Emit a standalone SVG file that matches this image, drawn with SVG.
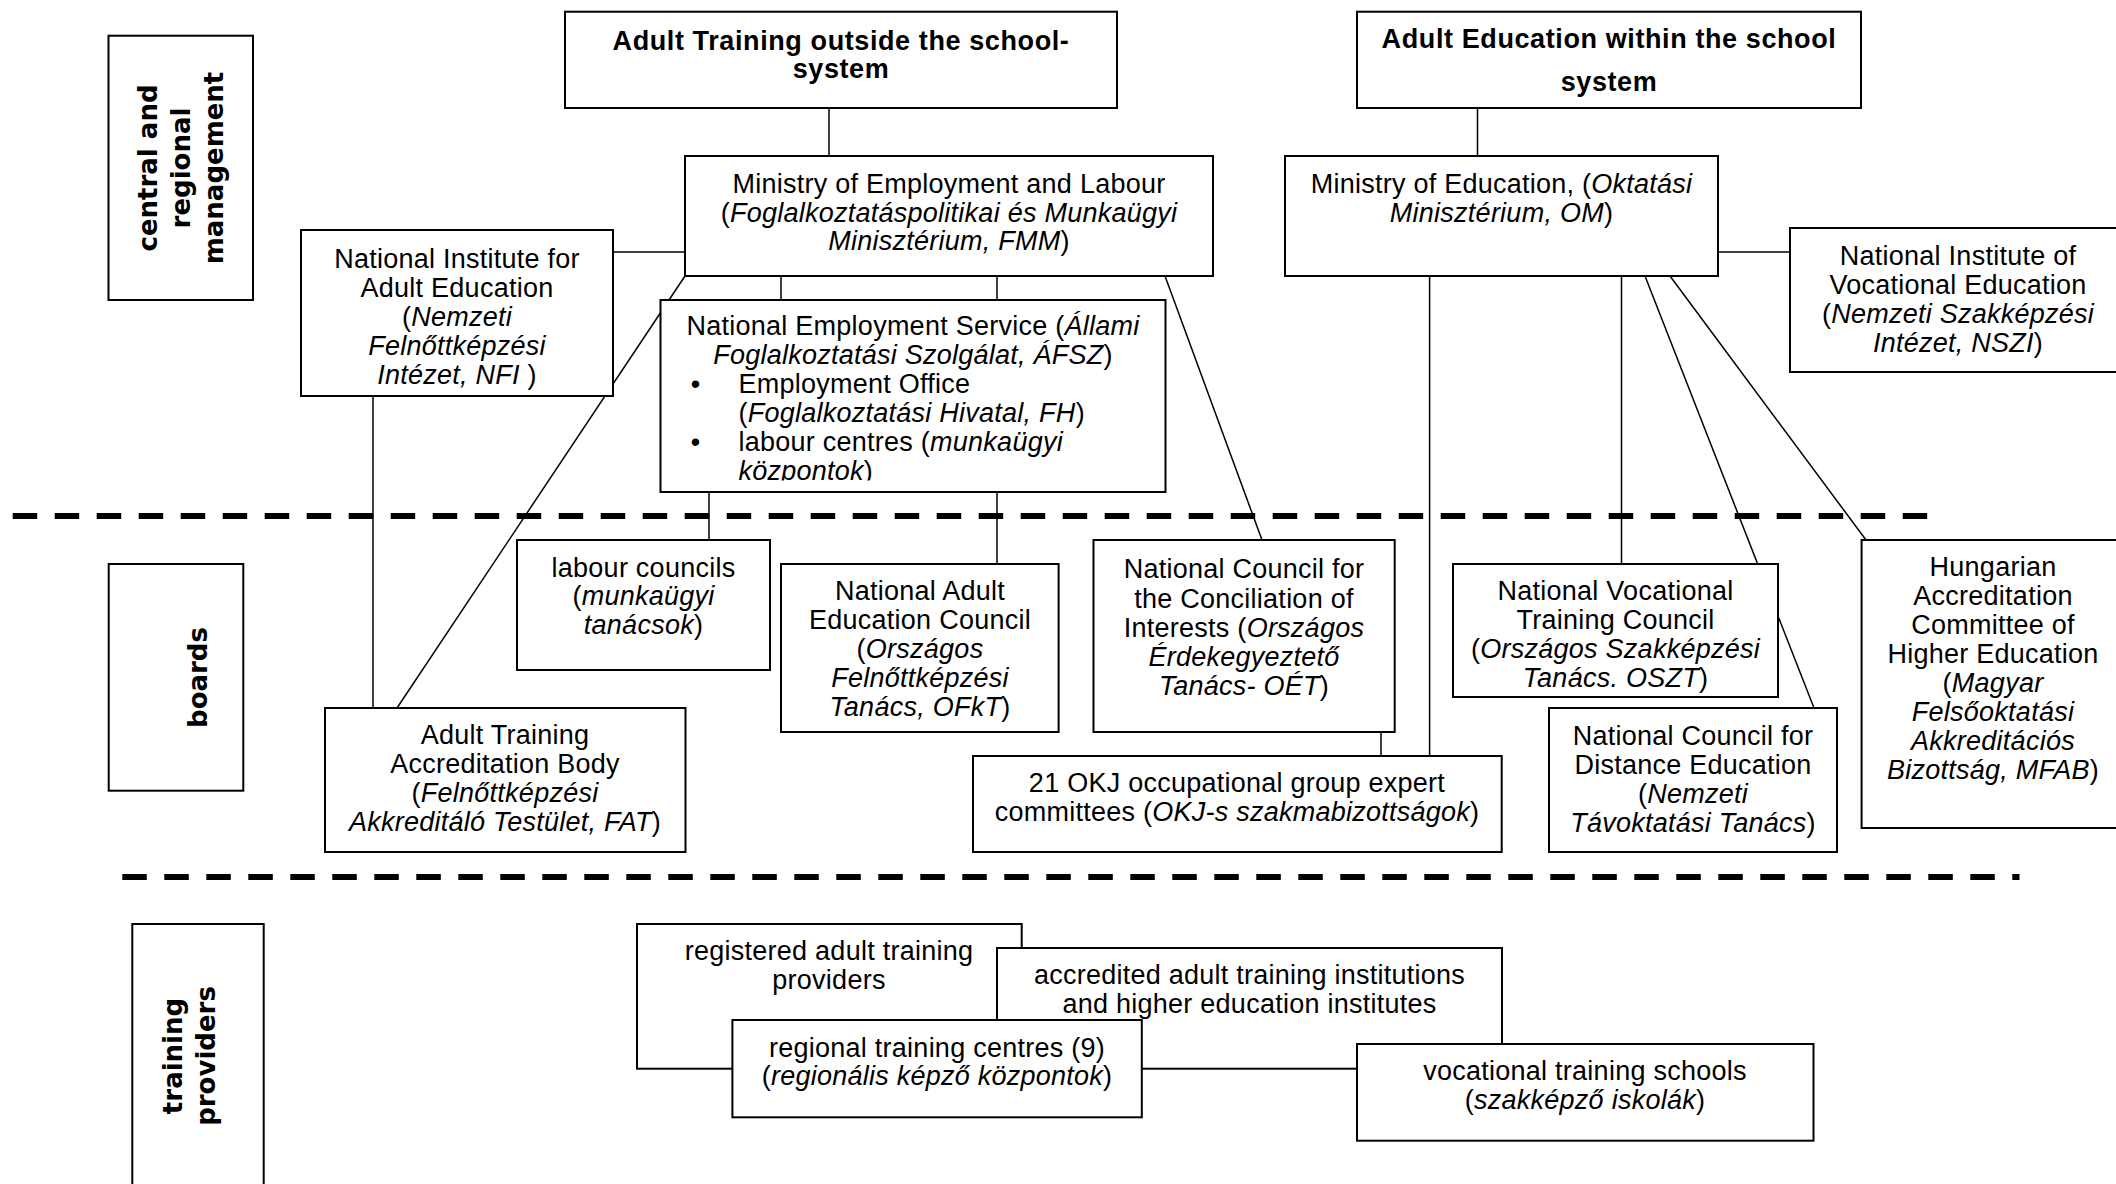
<svg xmlns="http://www.w3.org/2000/svg" width="2116" height="1184" viewBox="0 0 2116 1184">
<style>
.box{fill:#fff;stroke:#000;stroke-width:2}
.t{font-family:"Liberation Sans",Arial,sans-serif;font-size:27px;text-anchor:middle;fill:#000;letter-spacing:0.25px}
.tl{font-family:"Liberation Sans",Arial,sans-serif;font-size:27px;text-anchor:start;fill:#000;letter-spacing:0.25px}
.b{font-weight:bold;letter-spacing:0.6px}
.i{font-style:italic}
.lbl{font-family:"DejaVu Sans",Verdana,sans-serif;font-weight:bold;font-size:26px;text-anchor:middle;fill:#000}
.conn{stroke:#000;stroke-width:1.5;fill:none}
.sep{stroke:#000;stroke-width:6;stroke-dasharray:24.5 17.5;fill:none}
</style>
<defs>
<clipPath id="nesclip"><rect x="660" y="300" width="506" height="180.5"/></clipPath>
</defs>
<rect width="2116" height="1184" fill="#fff"/>

<g id="separators">
<line class="sep" x1="12.7" y1="516" x2="1927.5" y2="516"/>
<line class="sep" x1="122.3" y1="877" x2="2019.5" y2="877"/>
</g>

<g id="connectors">
<line class="conn" x1="829" y1="108" x2="829" y2="156"/>
<line class="conn" x1="1477.5" y1="108" x2="1477.5" y2="156"/>
<line class="conn" x1="613" y1="252" x2="685" y2="252"/>
<line class="conn" x1="1718" y1="252" x2="1790" y2="252"/>
<line class="conn" x1="781" y1="276" x2="781" y2="300"/>
<line class="conn" x1="997" y1="276" x2="997" y2="300"/>
<line class="conn" x1="685" y1="276" x2="397" y2="708"/>
<line class="conn" x1="373" y1="396" x2="373" y2="708"/>
<line class="conn" x1="709" y1="492" x2="709" y2="540"/>
<line class="conn" x1="997" y1="492" x2="997" y2="564"/>
<line class="conn" x1="1165" y1="276" x2="1262" y2="540"/>
<line class="conn" x1="1381" y1="732" x2="1381" y2="756"/>
<line class="conn" x1="1429.6" y1="276" x2="1429.6" y2="756"/>
<line class="conn" x1="1621.5" y1="276" x2="1621.5" y2="564"/>
<line class="conn" x1="1645" y1="276" x2="1814" y2="708"/>
<line class="conn" x1="1670" y1="276" x2="1866" y2="540"/>
</g>

<g id="label-central">
<rect class="box" x="108.5" y="35.7" width="144.5" height="264.3"/>
<text class="lbl" transform="translate(157,168) rotate(-90)">central and</text>
<text class="lbl" transform="translate(190,168) rotate(-90)">regional</text>
<text class="lbl" transform="translate(223,168) rotate(-90)">management</text>
</g>

<g id="label-boards">
<rect class="box" x="108.7" y="564" width="134.6" height="226.7"/>
<text class="lbl" transform="translate(206.7,677.5) rotate(-90)">boards</text>
</g>

<g id="label-providers">
<rect class="box" x="132.3" y="924" width="131.4" height="290"/>
<text class="lbl" transform="translate(181.5,1056) rotate(-90)">training</text>
<text class="lbl" transform="translate(214.5,1056) rotate(-90)">providers</text>
</g>

<g id="adult-training">
<rect class="box" x="565" y="11.7" width="552" height="96.3"/>
<text class="t b" x="841" y="50">Adult Training outside the school-</text>
<text class="t b" x="841" y="78">system</text>
</g>

<g id="adult-education">
<rect class="box" x="1357" y="11.7" width="504" height="96.3"/>
<text class="t b" x="1609" y="47.5">Adult Education within the school</text>
<text class="t b" x="1609" y="91">system</text>
</g>

<g id="fmm">
<rect class="box" x="685" y="156" width="528" height="120"/>
<text class="t" x="949" y="192.5">Ministry of Employment and Labour</text>
<text class="t" x="949" y="221.5">(<tspan class="i">Foglalkoztatáspolitikai és Munkaügyi</tspan></text>
<text class="t" x="949" y="249.5"><tspan class="i">Minisztérium, FMM</tspan>)</text>
</g>

<g id="om">
<rect class="box" x="1285" y="156" width="433" height="120"/>
<text class="t" x="1501.5" y="192.5">Ministry of Education, (<tspan class="i">Oktatási</tspan></text>
<text class="t" x="1501.5" y="221.5"><tspan class="i">Minisztérium, OM</tspan>)</text>
</g>

<g id="nfi">
<rect class="box" x="301" y="230" width="312" height="166"/>
<text class="t" x="457" y="267.5">National Institute for</text>
<text class="t" x="457" y="296.5">Adult Education</text>
<text class="t" x="457" y="325.5">(<tspan class="i">Nemzeti</tspan></text>
<text class="t" x="457" y="354.5"><tspan class="i">Felnőttképzési</tspan></text>
<text class="t" x="457" y="383.5"><tspan class="i">Intézet, NFI </tspan>)</text>
</g>

<g id="nszi">
<rect class="box" x="1790" y="228" width="336" height="144"/>
<text class="t" x="1958" y="264.5">National Institute of</text>
<text class="t" x="1958" y="293.5">Vocational Education</text>
<text class="t" x="1958" y="322.5">(<tspan class="i">Nemzeti Szakképzési</tspan></text>
<text class="t" x="1958" y="351.5"><tspan class="i">Intézet, NSZI</tspan>)</text>
</g>

<g id="nes">
<rect class="box" x="660.5" y="300" width="505" height="192"/>
<g clip-path="url(#nesclip)">
<text class="t" x="913" y="334.5">National Employment Service (<tspan class="i">Állami</tspan></text>
<text class="t" x="913" y="363.5"><tspan class="i">Foglalkoztatási Szolgálat, ÁFSZ</tspan>)</text>
<text class="t" x="695.5" y="392.5">•</text>
<text class="tl" x="738.5" y="392.5">Employment Office</text>
<text class="tl" x="738.5" y="421.5">(<tspan class="i">Foglalkoztatási Hivatal, FH</tspan>)</text>
<text class="t" x="695.5" y="450.5">•</text>
<text class="tl" x="738.5" y="450.5">labour centres (<tspan class="i">munkaügyi</tspan></text>
<text class="tl" x="738.5" y="479.5"><tspan class="i">központok</tspan>)</text>
</g>
</g>

<g id="labour-councils">
<rect class="box" x="517" y="540" width="253" height="130"/>
<text class="t" x="643.5" y="576.5">labour councils</text>
<text class="t" x="643.5" y="605">(<tspan class="i">munkaügyi</tspan></text>
<text class="t" x="643.5" y="633.5"><tspan class="i">tanácsok</tspan>)</text>
</g>

<g id="naec">
<rect class="box" x="781" y="564" width="277.6" height="168"/>
<text class="t" x="920" y="599.5">National Adult</text>
<text class="t" x="920" y="628.5">Education Council</text>
<text class="t" x="920" y="657.5">(<tspan class="i">Országos</tspan></text>
<text class="t" x="920" y="686.5"><tspan class="i">Felnőttképzési</tspan></text>
<text class="t" x="920" y="715.5"><tspan class="i">Tanács, OFkT</tspan>)</text>
</g>

<g id="fat">
<rect class="box" x="325" y="708" width="360.5" height="144"/>
<text class="t" x="505" y="743.5">Adult Training</text>
<text class="t" x="505" y="772.5">Accreditation Body</text>
<text class="t" x="505" y="801.5">(<tspan class="i">Felnőttképzési</tspan></text>
<text class="t" x="505" y="830.5"><tspan class="i">Akkreditáló Testület, FAT</tspan>)</text>
</g>

<g id="oet">
<rect class="box" x="1093.5" y="540" width="301.2" height="192"/>
<text class="t" x="1244" y="578">National Council for</text>
<text class="t" x="1244" y="607.5">the Conciliation of</text>
<text class="t" x="1244" y="636.5">Interests (<tspan class="i">Országos</tspan></text>
<text class="t" x="1244" y="665.5"><tspan class="i">Érdekegyeztető</tspan></text>
<text class="t" x="1244" y="694.5"><tspan class="i">Tanács- OÉT</tspan>)</text>
</g>

<g id="okj">
<rect class="box" x="973" y="756" width="528.7" height="96"/>
<text class="t" x="1237" y="791.5">21 OKJ occupational group expert</text>
<text class="t" x="1237" y="820.5">committees (<tspan class="i">OKJ-s szakmabizottságok</tspan>)</text>
</g>

<g id="nvtc">
<rect class="box" x="1453" y="564" width="325" height="133"/>
<text class="t" x="1615.5" y="599.5">National Vocational</text>
<text class="t" x="1615.5" y="628.5">Training Council</text>
<text class="t" x="1615.5" y="657.5">(<tspan class="i">Országos Szakképzési</tspan></text>
<text class="t" x="1615.5" y="686.5"><tspan class="i">Tanács. OSZT</tspan>)</text>
</g>

<g id="ncde">
<rect class="box" x="1549" y="708" width="288" height="144"/>
<text class="t" x="1693" y="744.5">National Council for</text>
<text class="t" x="1693" y="773.5">Distance Education</text>
<text class="t" x="1693" y="802.5">(<tspan class="i">Nemzeti</tspan></text>
<text class="t" x="1693" y="831.5"><tspan class="i">Távoktatási Tanács</tspan>)</text>
</g>

<g id="hache">
<rect class="box" x="1861.6" y="540" width="264" height="288"/>
<text class="t" x="1993" y="575.5">Hungarian</text>
<text class="t" x="1993" y="604.5">Accreditation</text>
<text class="t" x="1993" y="633.5">Committee of</text>
<text class="t" x="1993" y="662.5">Higher Education</text>
<text class="t" x="1993" y="691.5">(<tspan class="i">Magyar</tspan></text>
<text class="t" x="1993" y="720.5"><tspan class="i">Felsőoktatási</tspan></text>
<text class="t" x="1993" y="749.5"><tspan class="i">Akkreditációs</tspan></text>
<text class="t" x="1993" y="778.5"><tspan class="i">Bizottság, MFAB</tspan>)</text>
</g>

<g id="registered">
<rect class="box" x="637" y="924" width="384.7" height="144.7"/>
<text class="t" x="829" y="959.5">registered adult training</text>
<text class="t" x="829" y="988.5">providers</text>
</g>

<g id="accredited">
<rect class="box" x="997" y="948" width="505" height="120.7"/>
<text class="t" x="1249.5" y="983.5">accredited adult training institutions</text>
<text class="t" x="1249.5" y="1012.5">and higher education institutes</text>
</g>

<g id="regional">
<rect class="box" x="732.4" y="1020" width="409.4" height="97.3"/>
<text class="t" x="937" y="1056.5">regional training centres (9)</text>
<text class="t" x="937" y="1084.5">(<tspan class="i">regionális képző központok</tspan>)</text>
</g>

<g id="vocational">
<rect class="box" x="1357" y="1044" width="456.5" height="96.7"/>
<text class="t" x="1585" y="1079.5">vocational training schools</text>
<text class="t" x="1585" y="1108.5">(<tspan class="i">szakképző iskolák</tspan>)</text>
</g>
</svg>
